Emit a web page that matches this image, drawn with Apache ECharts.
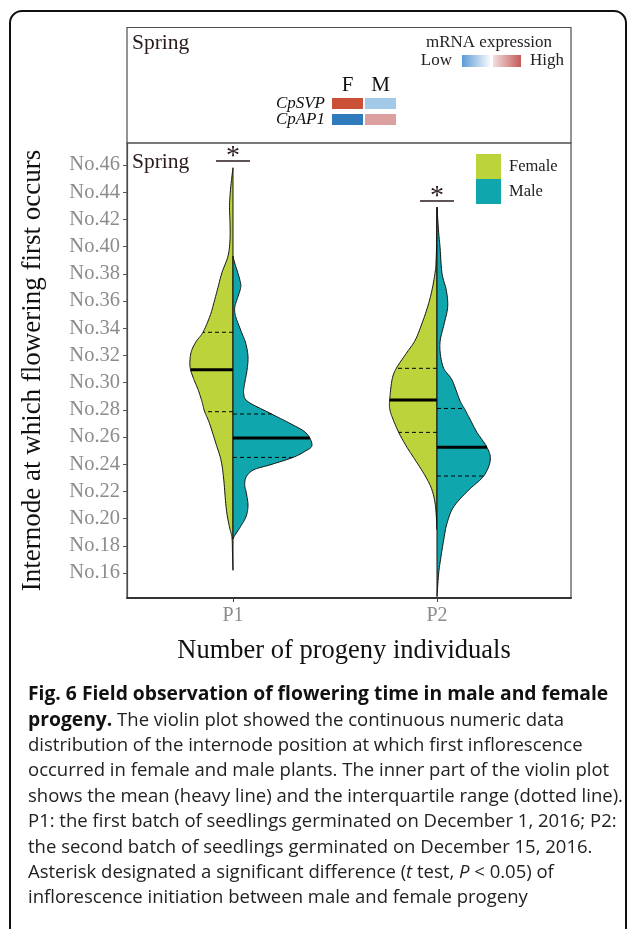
<!DOCTYPE html>
<html><head><meta charset="utf-8">
<script src="https://cdn.jsdelivr.net/npm/echarts@6/dist/echarts.min.js"></script>
<style>html,body{margin:0;padding:0;background:#fff}#c{width:629px;height:929px}</style>
</head><body><div id="c"></div>
<script>
// ---------- data ----------
const periods = ['P1', 'P2'];
const yTicks = [16, 18, 20, 22, 24, 26, 28, 30, 32, 34, 36, 38, 40, 42, 44, 46];
// violin half outlines: [internode, density (half width)]
const femaleP1 = [[45.8,0],[45.2,1],[44.2,2.5],[43.0,3.5],[41.8,3],[40.5,3],[39.3,5],[38.1,11],[37.0,15],[35.9,19],[34.9,23],[33.7,30],[33.0,37],[32.2,42],[31.2,43],[30.4,40],[29.5,35],[28.6,31],[27.9,28.5],[27.0,23.5],[25.5,17],[24.3,12],[22.9,9.3],[20.7,6.7],[19.3,3.3],[18.6,1],[17.4,0.5],[16.2,0]];
const maleP1 = [[39.3,0],[38.8,1.7],[37.6,6.7],[37.0,7.7],[36.1,4],[35.5,1.7],[34.85,2.7],[33.75,8.3],[32.9,12.7],[31.9,15],[30.9,14],[29.95,11.7],[29.2,10.7],[28.6,15],[27.75,37],[27.0,57],[26.3,73],[25.4,79],[24.95,72],[24.5,60],[23.95,37],[23.6,21],[23.1,13.5],[22.5,11.7],[21.9,13.3],[21.0,15],[20.2,13.3],[19.5,8.3],[18.75,1.7],[18.5,0]];
const femaleP2 = [[42.9,0],[40.5,0.3],[38.8,1],[38.04,2],[36.8,5],[35.58,9.3],[34.36,15],[33.13,21.7],[32.15,30.7],[31.05,40.7],[30.19,45],[28.72,47.3],[28.1,47.3],[27.5,45],[26.34,38.3],[25.24,30],[24.3,21.7],[23.13,11.7],[22.1,5],[20.9,1.5],[19.2,0]];
const maleP2 = [[42.9,0],[41.2,1.5],[40.0,3],[38.04,5],[36.8,9.3],[35.58,10.7],[34.36,7.3],[33.13,3.3],[32.15,3.3],[31.05,6.7],[30.19,15],[28.72,22.7],[28.1,27.3],[27.5,31.7],[26.34,40],[25.24,50],[24.3,53.3],[23.13,46.7],[22.1,31.7],[20.87,16.7],[19.65,10],[18.43,6.7],[17.2,4],[16.0,1.7],[14.26,0]];
const femaleMean = [30.95, 28.72];
const femaleQ1 = [27.86, 26.34];
const femaleQ3 = [33.7, 31.05];
const maleMean = [25.93, 25.24];
const maleQ1 = [24.5, 23.13];
const maleQ3 = [27.69, 28.1];
const sigLevel = [46.3, 43.35];
const genes = ['CpSVP', 'CpAP1'];
const sexes = ['F', 'M'];
const exprF = [0.97, 0.03];
const exprM = [0.25, 0.75];

// ---------- rendering ----------
const SERIF = '"Liberation Serif", "DejaVu Serif", serif';
const DENS = 1 / 204; // density unit -> x-axis units
const FEMALE = '#bcd33c', MALE = '#10a6ad';

function catmull(pts, steps) {
  const out = [];
  const n = pts.length;
  for (let i = 0; i < n - 1; i++) {
    const p0 = pts[Math.max(0, i - 1)], p1 = pts[i], p2 = pts[i + 1], p3 = pts[Math.min(n - 1, i + 2)];
    for (let s = 0; s < steps; s++) {
      const t = s / steps, t2 = t * t, t3 = t2 * t;
      const f = (a, b, c, d) => 0.5 * ((2 * b) + (-a + c) * t + (2 * a - 5 * b + 4 * c - d) * t2 + (-a + 3 * b - 3 * c + d) * t3);
      out.push([f(p0[0], p1[0], p2[0], p3[0]), f(p0[1], p1[1], p2[1], p3[1])]);
    }
  }
  out.push(pts[n - 1]);
  return out;
}
function edgeAt(dense, y) {
  for (let i = 0; i < dense.length - 1; i++) {
    const a = dense[i], b = dense[i + 1];
    if ((a[1] - y) * (b[1] - y) <= 0 && a[1] !== b[1]) {
      const t = (y - a[1]) / (b[1] - a[1]);
      return a[0] + t * (b[0] - a[0]);
    }
  }
  return null;
}
function makeViolin(side, outlines, color) {
  return function (params, api) {
    const i = params.dataIndex;
    const cx = api.value(0);
    const pts = outlines[i].map(([v, w]) => api.coord([cx + side * w * DENS, v]));
    const dense = catmull(pts, 10);
    const children = [{
      type: 'polygon', shape: { points: dense },
      style: { fill: color, stroke: '#111', lineWidth: 1 }
    }];
    const stats = [[api.value(1), 3, null], [api.value(2), 1, [4, 3]], [api.value(3), 1, [4, 3]]];
    stats.forEach(([v, lw, dash]) => {
      const c = api.coord([cx, v]);
      const ex = edgeAt(dense, c[1]);
      if (ex == null) return;
      children.push({
        type: 'line', shape: { x1: c[0], y1: c[1], x2: ex, y2: c[1] },
        style: { stroke: '#000', lineWidth: lw, lineDash: dash }
      });
    });
    return { type: 'group', children };
  };
}

const chart = echarts.init(document.getElementById('c'), null, { renderer: 'canvas' });
const heatData = [];
genes.forEach((g, gi) => {
  heatData.push([0, gi, exprF[gi]]);
  heatData.push([1, gi, exprM[gi]]);
});

const captionLines = [
  '{b|Fig. 6 Field observation of flowering time in male and female}',
  '{b|progeny.} The violin plot showed the continuous numeric data',
  'distribution of the internode position at which first inflorescence',
  'occurred in female and male plants. The inner part of the violin plot',
  'shows the mean (heavy line) and the interquartile range (dotted line).',
  'P1: the first batch of seedlings germinated on December 1, 2016; P2:',
  'the second batch of seedlings germinated on December 15, 2016.',
  'Asterisk designated a significant difference ({i|t} test, {i|P} < 0.05) of',
  'inflorescence initiation between male and female progeny'
];
const CAPFONT = '"Open Sans", Lato, sans-serif';
const CAPSIZE = 18.5;
const captionGraphics = captionLines.map((t, k) => ({
  type: 'text', x: 28, y: 695 + k * 25.4,
  style: {
    text: t, font: CAPSIZE + 'px ' + CAPFONT, fill: '#222', verticalAlign: 'middle',
    rich: {
      b: { fontWeight: 'bold', fontSize: 19.3, fontFamily: CAPFONT, fill: '#111' },
      i: { fontStyle: 'italic', fontSize: CAPSIZE, fontFamily: CAPFONT, fill: '#222' }
    }
  }
}));

chart.setOption({
  animation: false,
  grid: [
    { left: 127, top: 143, width: 444, height: 455, show: true, borderColor: '#4d4d4d', borderWidth: 1.2 },
    { left: 331, top: 95.5, width: 66, height: 32 }
  ],
  xAxis: [{
    type: 'value', gridIndex: 0, min: 0.4804, max: 2.6569,
    name: 'Number of progeny individuals', nameLocation: 'middle', nameGap: 40,
    nameTextStyle: { fontFamily: SERIF, fontSize: 26.5, color: '#111', padding: [0, 10, 0, 0] },
    splitLine: { show: false },
    axisLine: { show: true, lineStyle: { color: '#333', width: 2 } },
    axisTick: { show: true, customValues: [1, 2], length: 4, lineStyle: { color: '#444' } },
    axisLabel: { customValues: [1, 2], formatter: v => periods[Math.round(v) - 1], fontFamily: SERIF, fontSize: 20, color: '#8c8c8c', margin: 8 }
  }, {
    type: 'category', gridIndex: 1, data: sexes, position: 'top',
    axisLine: { show: false }, axisTick: { show: false },
    axisLabel: { interval: 0, fontFamily: SERIF, fontSize: 21, color: '#111', margin: 0 }
  }],
  yAxis: [{
    type: 'value', gridIndex: 0, min: 14.162, max: 47.618,
    name: 'Internode at which flowering first occurs', nameLocation: 'middle', nameGap: 81,
    nameTextStyle: { fontFamily: SERIF, fontSize: 27, color: '#111' },
    splitLine: { show: false },
    axisLine: { show: true, lineStyle: { color: '#4d4d4d', width: 1.2 } },
    axisTick: { show: true, customValues: yTicks, length: 4, lineStyle: { color: '#555' } },
    axisLabel: { customValues: yTicks, formatter: v => 'No.' + v, fontFamily: SERIF, fontSize: 20.5, color: '#8c8c8c', margin: 7 }
  }, {
    type: 'category', gridIndex: 1, data: genes, inverse: true,
    axisLine: { show: false }, axisTick: { show: false },
    axisLabel: { interval: 0, fontFamily: SERIF, fontSize: 17, fontStyle: 'italic', color: '#111', margin: 6 }
  }],
  visualMap: {
    show: false, type: 'continuous', min: 0, max: 1, dimension: 2, seriesIndex: 3,
    inRange: { color: ['#1f6fb4', '#a3c9e8', '#ffffff', '#dca0a0', '#c8462a'] }
  },
  legend: {
    data: ['Female', 'Male'], orient: 'vertical', left: 476, top: 154, padding: 0,
    itemWidth: 25, itemHeight: 25, itemGap: 0, icon: 'rect',
    textStyle: { fontFamily: SERIF, fontSize: 16.5, color: '#222', padding: [0, 0, 0, 3] }
  },
  series: [
    {
      type: 'custom', name: 'Female', xAxisIndex: 0, yAxisIndex: 0,
      itemStyle: { color: FEMALE },
      data: periods.map((p, i) => [i + 1, femaleMean[i], femaleQ1[i], femaleQ3[i]]),
      encode: { x: 0, y: 1 },
      renderItem: makeViolin(-1, [femaleP1, femaleP2], FEMALE)
    },
    {
      type: 'custom', name: 'Male', xAxisIndex: 0, yAxisIndex: 0,
      itemStyle: { color: MALE },
      data: periods.map((p, i) => [i + 1, maleMean[i], maleQ1[i], maleQ3[i]]),
      encode: { x: 0, y: 1 },
      renderItem: makeViolin(1, [maleP1, maleP2], MALE)
    },
    {
      type: 'custom', name: 'sig', xAxisIndex: 0, yAxisIndex: 0,
      data: periods.map((p, i) => [i + 1, sigLevel[i]]),
      encode: { x: 0, y: 1 },
      renderItem: function (params, api) {
        const c = api.coord([api.value(0), api.value(1)]);
        return {
          type: 'group', children: [
            { type: 'line', shape: { x1: c[0] - 17, y1: c[1], x2: c[0] + 17, y2: c[1] }, style: { stroke: '#2a1a1a', lineWidth: 1.5 } },
            { type: 'text', x: c[0], y: c[1] + 10, style: { text: '*', font: '28px ' + SERIF, fill: '#2a1a1a', align: 'center', verticalAlign: 'bottom' } }
          ]
        };
      }
    },
    {
      type: 'custom', name: 'expr', xAxisIndex: 1, yAxisIndex: 1,
      data: heatData, encode: { x: 0, y: 1 },
      renderItem: function (params, api) {
        const c = api.coord([api.value(0), api.value(1)]);
        const s = api.size([1, 1]);
        return {
          type: 'rect',
          shape: { x: c[0] - s[0] / 2 + 1, y: c[1] - s[1] / 2 + 2.5, width: s[0] - 2, height: s[1] - 5 },
          style: { fill: api.visual('color') }
        };
      }
    }
  ],
  graphic: [
    { type: 'rect', shape: { x: 10, y: 11, width: 616, height: 960, r: 12 }, style: { fill: 'none', stroke: '#111', lineWidth: 2 }, silent: true },
    { type: 'rect', shape: { x: 127, y: 27.5, width: 444, height: 115.5 }, style: { fill: 'none', stroke: '#4d4d4d', lineWidth: 1.2 }, silent: true },
    { type: 'text', x: 132, y: 43, style: { text: 'Spring', font: '21.5px ' + SERIF, fill: '#2a1a1a', verticalAlign: 'middle' } },
    { type: 'text', x: 132, y: 162, style: { text: 'Spring', font: '21.5px ' + SERIF, fill: '#2a1a1a', verticalAlign: 'middle' } },
    { type: 'text', x: 489, y: 43, style: { text: 'mRNA expression', font: '17px ' + SERIF, fill: '#222', align: 'center', verticalAlign: 'middle' } },
    { type: 'text', x: 452, y: 61, style: { text: 'Low', font: '17px ' + SERIF, fill: '#222', align: 'right', verticalAlign: 'middle' } },
    { type: 'text', x: 530, y: 61, style: { text: 'High', font: '17px ' + SERIF, fill: '#222', align: 'left', verticalAlign: 'middle' } },
    { type: 'rect', shape: { x: 462, y: 55, width: 28, height: 12 }, style: { fill: new echarts.graphic.LinearGradient(0, 0, 1, 0, [{ offset: 0, color: '#5b9bd5' }, { offset: 1, color: '#f7fafd' }]) } },
    { type: 'rect', shape: { x: 493, y: 55, width: 28, height: 12 }, style: { fill: new echarts.graphic.LinearGradient(0, 0, 1, 0, [{ offset: 0, color: '#f3dede' }, { offset: 1, color: '#c55a5a' }]) } }
  ].concat(captionGraphics)
});
</script></body></html>
